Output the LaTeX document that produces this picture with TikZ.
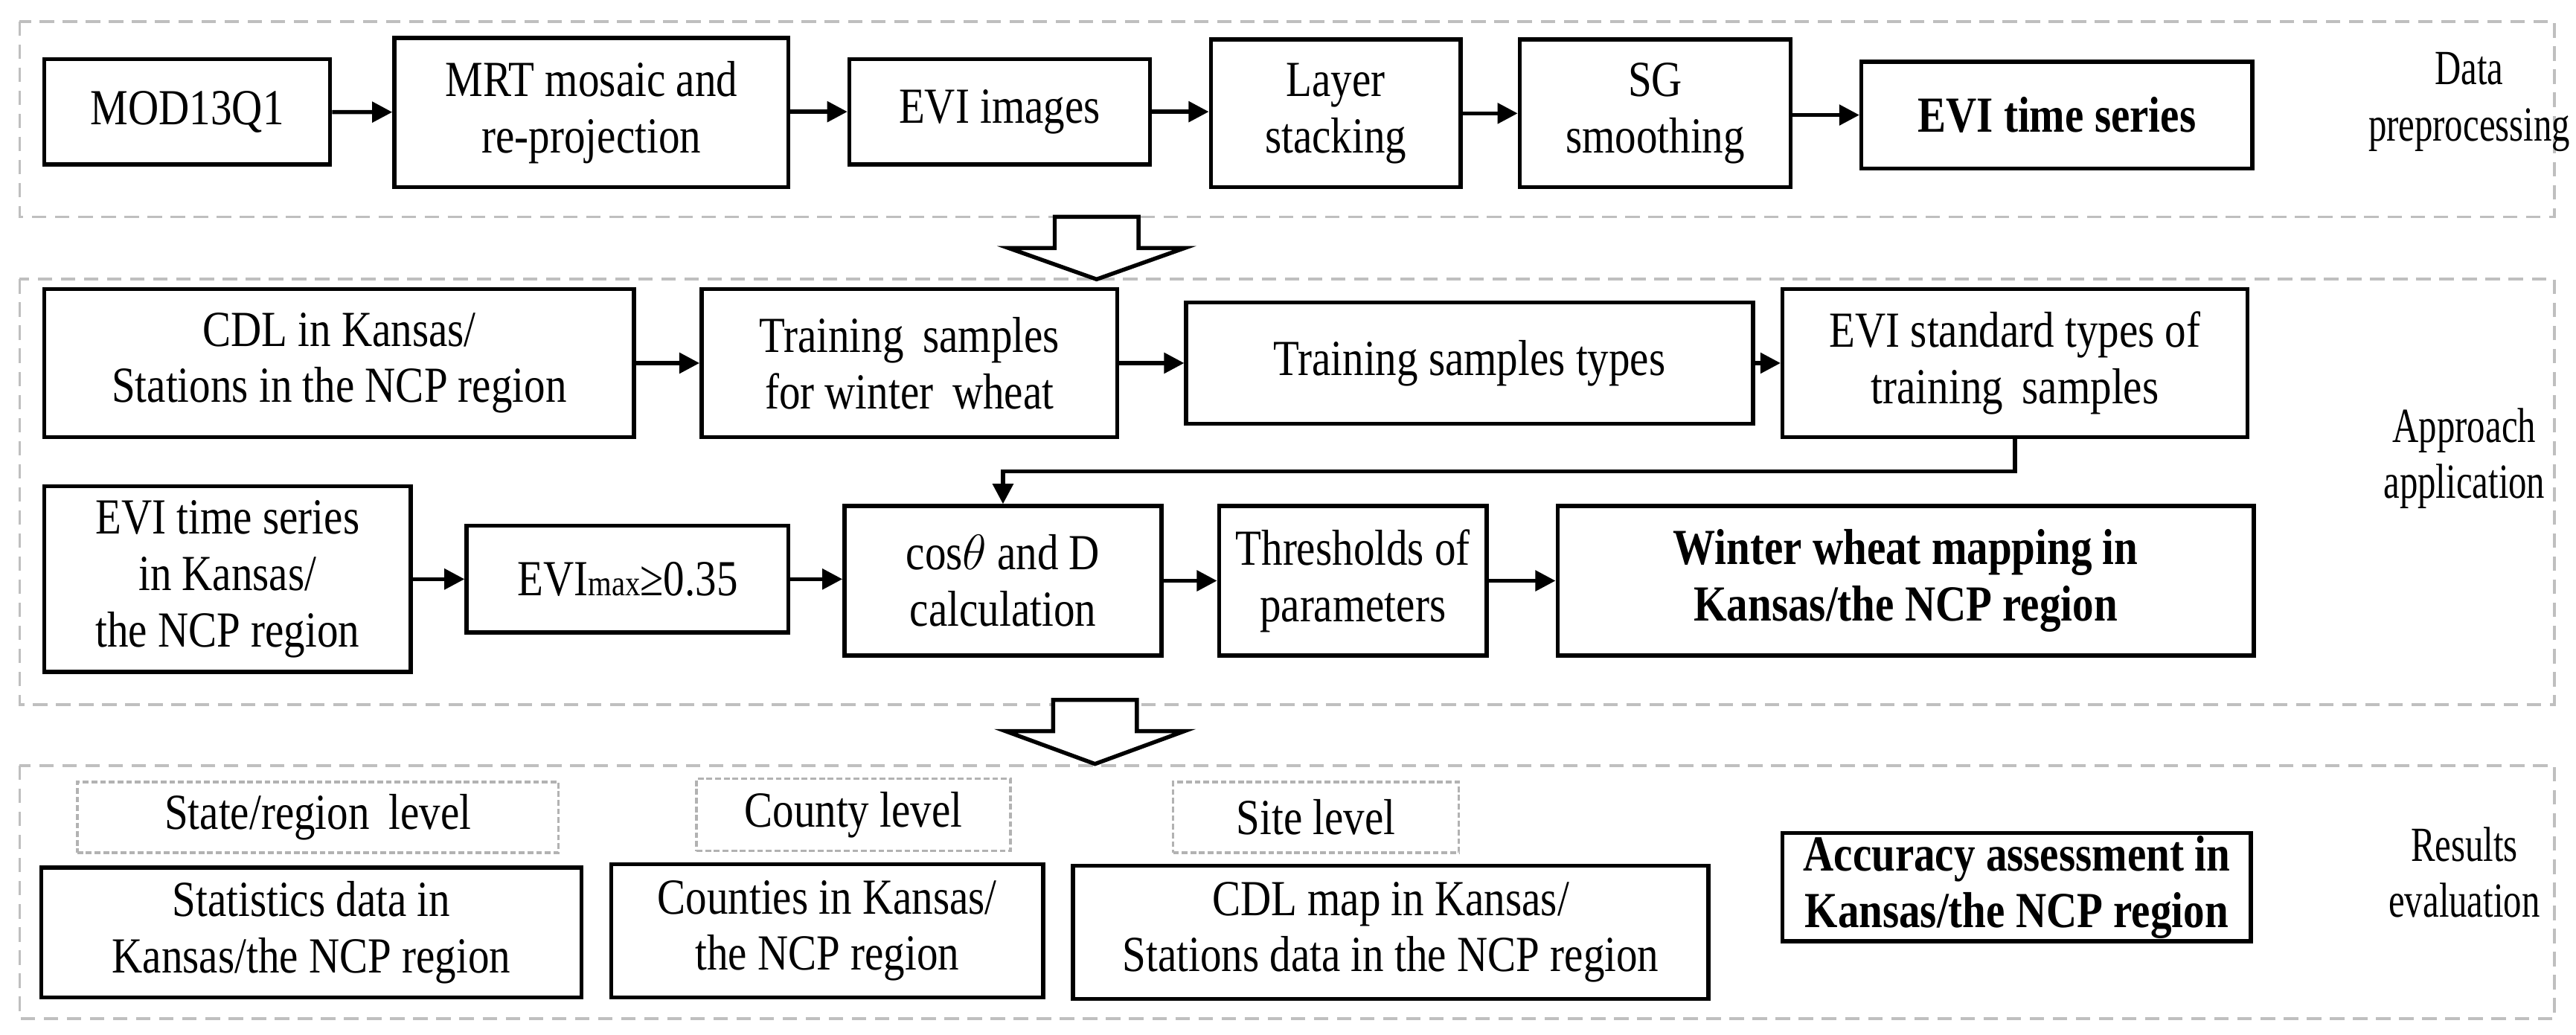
\documentclass[tikz,border=0pt]{standalone}
\usepackage{fontspec}
\setmainfont{Liberation Serif}[FakeStretch=0.84]
\newfontfamily\sidefont{Liberation Serif}[FakeStretch=0.74]
\usetikzlibrary{arrows.meta}
\begin{document}
\begin{tikzpicture}[x=0.02cm,y=-0.02cm,
  box/.style={draw,line width=1.4pt,align=center,inner sep=1pt,font=\fontsize{17.5}{19.5}\selectfont},
  bbox/.style={box,font=\fontsize{17.5}{19.5}\selectfont\bfseries},
  lab/.style={draw=gray!60,dashed,line width=0.9pt,align=center,font=\fontsize{17.5}{19.5}\selectfont,dash pattern=on 2pt off 1pt},
  grp/.style={draw=gray!50,line width=1pt,dash pattern=on 5pt off 3pt},
  side/.style={align=center,font=\sidefont\fontsize{17}{19.5}\selectfont},
  arr/.style={line width=1.4pt,-{Triangle[length=7pt,width=7pt]}},
  hollow/.style={draw,line width=1.4pt,fill=white}]
\useasboundingbox (0,0) rectangle (1568,630);
% groups
\draw[grp] (12,13) rectangle (1555,132);
\draw[grp] (12,170) rectangle (1555,429);
\draw[grp] (12,466) rectangle (1555,620);
% hollow arrows
\draw[hollow] (642,132) -- (693,132) -- (693,151) -- (721,151) -- (667.5,170) -- (614,151) -- (642,151) -- cycle;
\draw[hollow] (641,426) -- (692,426) -- (692,445) -- (721,445) -- (666.5,465) -- (612,445) -- (641,445) -- cycle;
% row 1
\node[box,minimum width=3.48cm,minimum height=1.28cm] (m1) at (114,68) {MOD13Q1};
\node[box,minimum width=4.8cm,minimum height=1.82cm] (m2) at (360,68.5) {MRT mosaic and\\re-projection};
\node[box,minimum width=3.66cm,minimum height=1.28cm] (m3) at (608.5,68) {EVI images};
\node[box,minimum width=3.04cm,minimum height=1.8cm] (m4) at (813,69) {Layer\\stacking};
\node[box,minimum width=3.3cm,minimum height=1.8cm] (m5) at (1007.5,69) {SG\\smoothing};
\node[bbox,minimum width=4.76cm,minimum height=1.3cm] (m6) at (1252,70) {EVI time series};
\draw[arr] (m1) -- (m2);
\draw[arr] (m2.east |- m3) -- (m3);
\draw[arr] (m3) -- (m4.west |- m3);
\draw[arr] (m4.east |- m5) -- (m5);
\draw[arr] (m5.east |- m6) -- (m6);
% row 2
\node[box,minimum width=7.18cm,minimum height=1.8cm] (a1) at (206.5,221) {CDL in Kansas/\\Stations in the NCP region};
\node[box,minimum width=5.06cm,minimum height=1.8cm] (a2) at (553.5,221) {Training\, samples\\for winter\, wheat};
\node[box,minimum width=6.9cm,minimum height=1.48cm] (a3) at (894.5,221) {Training samples types};
\node[box,minimum width=5.66cm,minimum height=1.8cm] (a4) at (1226.5,221) {EVI standard types of\\training\, samples};
\draw[arr] (a1) -- (a2);
\draw[arr] (a2) -- (a3);
\draw[arr] (a3) -- (a4);
% row 3
\node[box,minimum width=4.46cm,minimum height=2.26cm] (b1) at (138.5,352.5) {EVI time series\\in Kansas/\\the NCP region};
\node[box,minimum width=3.92cm,minimum height=1.3cm] (b2) at (382,352.5) {EVI{\fontsize{12.5}{12.5}\selectfont max}≥0.35};
\node[box,minimum width=3.86cm,minimum height=1.82cm] (b3) at (610.5,353.5) {cos$\theta$ and D\\calculation};
\node[box,minimum width=3.26cm,minimum height=1.82cm] (b4) at (823.5,353.5) {Thresholds of\\parameters};
\node[bbox,minimum width=8.48cm,minimum height=1.82cm] (b5) at (1160,353.5) {Winter wheat mapping in\\Kansas/the NCP region};
\coordinate (t1) at (1226.5,287);
\coordinate (t2) at (610.5,287);
\draw[arr] (a4.south) -- (t1) -- (t2) -- (b3.north);
\draw[arr] (b1.east |- b2) -- (b2);
\draw[arr] (b2) -- (b3.west |- b2);
\draw[arr] (b3) -- (b4);
\draw[arr] (b4) -- (b5);
% row 4
\node[lab,minimum width=5.86cm,minimum height=0.86cm] (l1) at (193.5,497.5) {State/region\, level};
\node[lab,minimum width=3.82cm,minimum height=0.88cm] (l2) at (519.5,496) {County level};
\node[lab,minimum width=3.48cm,minimum height=0.86cm] (l3) at (801,497.5) {Site level};
\node[box,minimum width=6.58cm,minimum height=1.58cm] (r1) at (189.5,567.5) {Statistics data in\\Kansas/the NCP region};
\node[box,minimum width=5.26cm,minimum height=1.62cm] (r2) at (503.5,566.5) {Counties in Kansas/\\the NCP region};
\node[box,minimum width=7.74cm,minimum height=1.62cm] (r3) at (846.5,567.5) {CDL map in Kansas/\\Stations data in the NCP region};
\node[bbox,minimum width=5.7cm,minimum height=1.28cm] (r4) at (1227.5,540) {Accuracy assessment in\\Kansas/the NCP region};
% side labels
\node[side] (s1) at (1503,62) {Data\\preprocessing};
\node[side] (s2) at (1500,279) {Approach\\application};
\node[side] (s3) at (1500,531) {Results\\evaluation};
\end{tikzpicture}
\end{document}
